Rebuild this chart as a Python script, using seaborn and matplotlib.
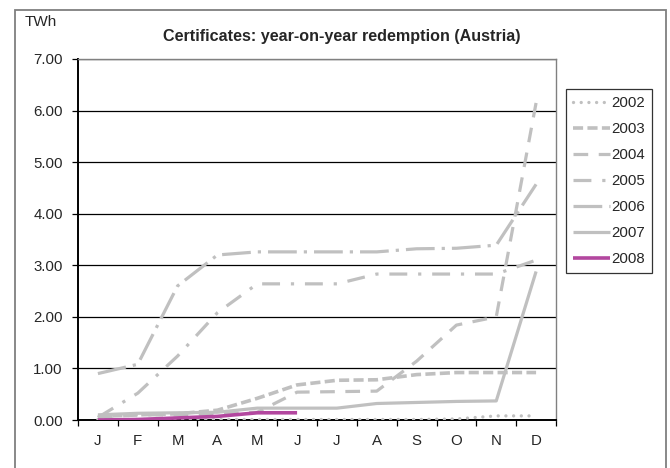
import matplotlib
matplotlib.use("Agg")
import matplotlib.pyplot as plt
from matplotlib.patches import Rectangle
import numpy as np
import pandas as pd
import seaborn as sns

# Monthly cumulative redemption of certificates, TWh
months = ["J", "F", "M", "A", "M", "J", "J", "A", "S", "O", "N", "D"]
y2002 = [0.01, 0.01, 0.01, 0.01, 0.01, 0.01, 0.01, 0.01, 0.01, 0.02, 0.08, 0.08]
y2003 = [0.07, 0.10, 0.12, 0.19, 0.42, 0.68, 0.77, 0.78, 0.88, 0.92, 0.92, 0.92]
y2004 = [0.05, 0.10, 0.10, 0.12, 0.15, 0.54, 0.55, 0.56, 1.14, 1.84, 2.00, 6.15]
y2005 = [0.05, 0.52, 1.24, 2.08, 2.64, 2.64, 2.64, 2.83, 2.83, 2.83, 2.83, 3.10]
y2006 = [0.90, 1.08, 2.60, 3.20, 3.26, 3.26, 3.26, 3.26, 3.32, 3.33, 3.39, 4.57]
y2007 = [0.10, 0.13, 0.14, 0.15, 0.23, 0.23, 0.23, 0.32, 0.34, 0.36, 0.37, 2.88]
y2008 = [0.00, 0.01, 0.04, 0.07, 0.14, 0.14]

years = ["2002", "2003", "2004", "2005", "2006", "2007", "2008"]
values = [y2002, y2003, y2004, y2005, y2006, y2007, y2008]

GREY = "#c0c0c0"
MAGENTA = "#b3479f"
styles = {
    "2002": dict(color=GREY, lw=2.4, ls=(0, (0.01, 2.3)), cap="round"),
    "2003": dict(color=GREY, lw=2.6, ls=(0, (2.8, 1.2)), cap="butt"),
    "2004": dict(color=GREY, lw=2.3, ls=(0, (4.6, 3.3)), cap="butt"),
    "2005": dict(color=GREY, lw=2.3, ls=(0, (5.6, 3.4, 1.0, 3.4)), cap="butt"),
    "2006": dict(color=GREY, lw=2.3, ls=(0, (9.0, 2.2, 1.0, 2.2)), cap="butt"),
    "2007": dict(color=GREY, lw=2.3, ls="-", cap="butt"),
    "2008": dict(color=MAGENTA, lw=2.6, ls="-", cap="butt"),
}

rows = []
for yr, vals in zip(years, values):
    for i, v in enumerate(vals):
        rows.append({"year": yr, "month": i, "twh": v})
df = pd.DataFrame(rows)

sns.set_theme(style="white")
plt.rcParams["font.family"] = ["Liberation Sans", "DejaVu Sans"]

fig = plt.figure(figsize=(6.7, 4.68), dpi=100)
ax = fig.add_axes([78 / 670, 1 - 420 / 468, (556 - 78) / 670, (420 - 59) / 468])

for yr in years:
    st = styles[yr]
    sub = df[df["year"] == yr]
    sns.lineplot(data=sub, x="month", y="twh", ax=ax, color=st["color"],
                 lw=st["lw"], linestyle=st["ls"], label=yr,
                 solid_capstyle=st["cap"], dash_capstyle=st["cap"], zorder=3)

# axes, grid and ticks
ax.set_xlim(-0.5, 11.5)
ax.set_ylim(0, 7)
ax.set_yticks(np.arange(0, 8, 1))
ax.set_yticklabels([f"{v:.2f}" for v in np.arange(0, 8, 1)], fontsize=10.8)
ax.yaxis.grid(True, color="#000000", lw=0.9, zorder=1)
ax.set_xticks(np.arange(-0.5, 12, 1))
ax.set_xticklabels([])
ax.set_xticks(np.arange(12), minor=True)
ax.set_xticklabels(months, minor=True, fontsize=10.8)
ax.tick_params(axis="x", which="major", direction="out", length=4.5, width=0.9,
               color="black", bottom=True)
ax.tick_params(axis="x", which="minor", length=0, pad=10)
ax.tick_params(axis="y", direction="out", length=4, width=0.9, color="black",
               left=True, pad=7)
ax.set_xlabel("")
ax.set_ylabel("")
for side in ("left", "bottom"):
    ax.spines[side].set_color("black")
    ax.spines[side].set_linewidth(1.4)
for side in ("top", "right"):
    ax.spines[side].set_color("#808080")
    ax.spines[side].set_linewidth(1.0)

leg = ax.legend(loc="upper left", bbox_to_anchor=(566 / 670, 1 - 89 / 468),
                bbox_transform=fig.transFigure, fontsize=10.8, frameon=True,
                fancybox=False, shadow=False, borderaxespad=0, borderpad=0.45,
                handlelength=2.45, handletextpad=0.12, labelspacing=0.80)
leg.get_frame().set_edgecolor("black")
leg.get_frame().set_linewidth(0.9)

fig.text(25 / 670, 1 - 22 / 468, "TWh", fontsize=11, va="center", ha="left")
fig.text(342 / 670, 1 - 37 / 468, "Certificates: year-on-year redemption (Austria)",
         fontsize=11.6, fontweight="bold", va="center", ha="center")

# chart-area frame (open at the bottom edge of the image)
fig.patches.append(Rectangle((15 / 670, -0.1), (666 - 15) / 670, 1.1 - 10 / 468,
                             transform=fig.transFigure, fill=False,
                             edgecolor="#7f7f7f", lw=1.3))

fig.savefig("out.png", dpi=100)
